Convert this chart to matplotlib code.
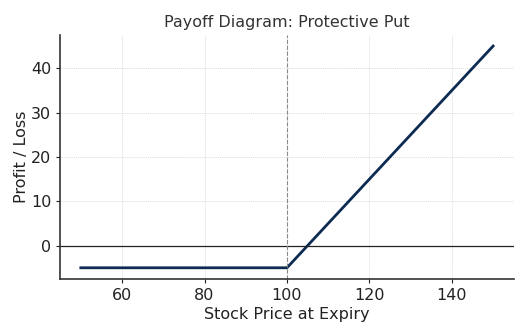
import matplotlib
matplotlib.use('Agg')
from matplotlib import pyplot as plt

# values
stock_price = [50, 100, 150]
profit_loss = [-5, -5, 45]
strike = 100
x_ticks = [60, 80, 100, 120, 140]
y_ticks = [0, 10, 20, 30, 40]

fig = plt.figure(figsize=(5.28, 3.36), dpi=100)
ax = fig.add_axes([0.114, 0.170, 0.859, 0.726])

ax.plot(stock_price, profit_loss, color='#0d2b52', linewidth=2)
ax.axhline(0, color='#222222', linewidth=0.9)
ax.axvline(strike, color='#888888', linestyle='--', linewidth=0.8)

ax.set_xticks(x_ticks)
ax.set_yticks(y_ticks)
ax.grid(True, linestyle=(0, (1, 1)), color='#dddddd', linewidth=0.7)
ax.set_axisbelow(True)

for side in ['top', 'right']:
	ax.spines[side].set_visible(False)
for side in ['left', 'bottom']:
	ax.spines[side].set_color('#333333')
	ax.spines[side].set_linewidth(1.2)

ax.tick_params(labelsize=11.5, colors='#222222', length=3)
ax.set_title('Payoff Diagram: Protective Put', fontsize=11.5, color='#333333', pad=6)
ax.set_xlabel('Stock Price at Expiry', fontsize=11.5, color='#222222', labelpad=3)
ax.set_ylabel('Profit / Loss', fontsize=11.5, color='#222222', labelpad=1)

fig.savefig('out.png', dpi=100)
